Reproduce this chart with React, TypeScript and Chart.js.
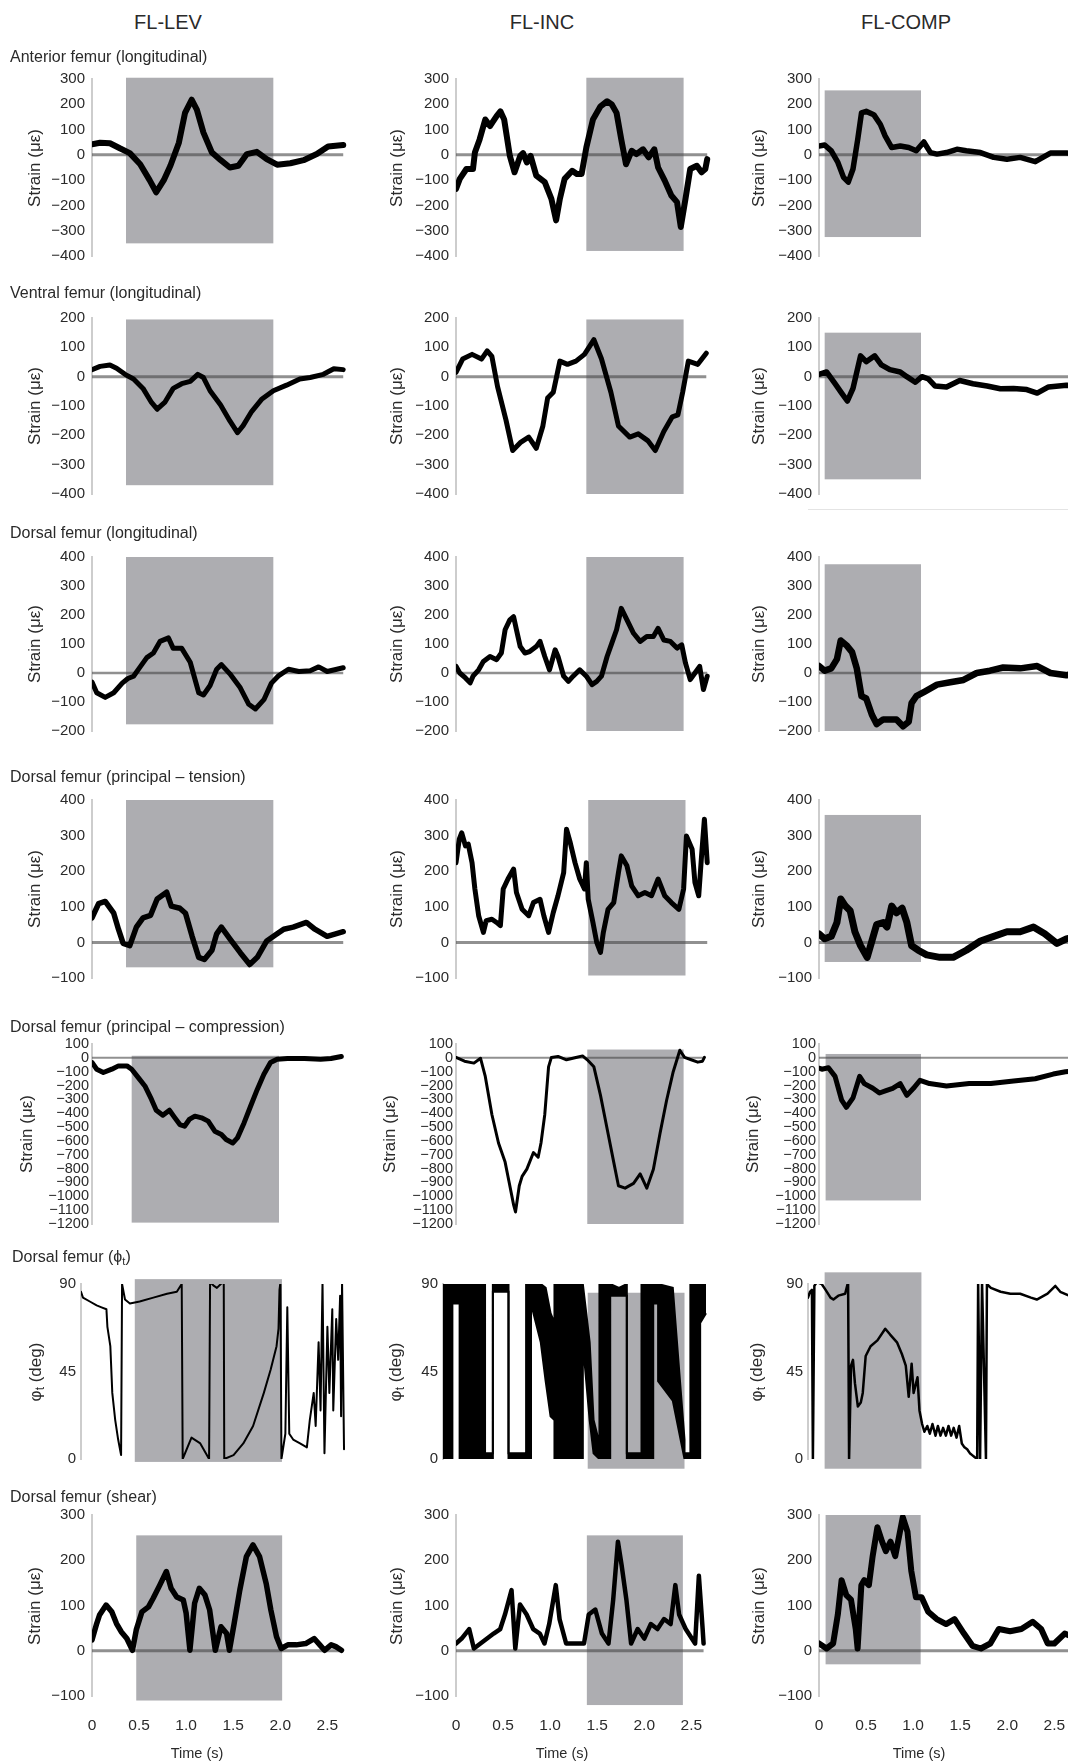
import React, { useEffect, useRef } from 'react';
import { Chart, registerables } from 'chart.js';

Chart.register(...registerables);

const FONT = "'Liberation Sans', Arial, Helvetica, sans-serif";
const TXT = '#2a2a2a';
Chart.defaults.font.family = FONT;

// ---------------- DATA (time in s, strain in microstrain, angle in deg) ----------------
const COLUMN_TITLES = ['FL-LEV', 'FL-INC', 'FL-COMP'];
const X_TICKS_MAX = 2.7;

// Row 1: Anterior femur (longitudinal)
const ANT_LEV_T = [0,0.085,0.19,0.3,0.4,0.51,0.61,0.68,0.76,0.83,0.92,0.985,1.055,1.11,1.18,1.27,1.36,1.46,1.55,1.64,1.745,1.85,1.96,2.1,2.24,2.38,2.5,2.66];
const ANT_LEV_V = [42,48,46,25,7,-37,-100,-148,-100,-43,48,166,218,179,88,9,-20,-50,-43,3,12,-17,-39,-33,-21,3,33,39];
const ANT_INC_T = [0,0.04,0.11,0.18,0.2,0.25,0.31,0.36,0.43,0.47,0.51,0.57,0.62,0.68,0.71,0.75,0.79,0.85,0.94,1.01,1.06,1.1,1.15,1.23,1.28,1.33,1.38,1.45,1.53,1.6,1.65,1.7,1.75,1.8,1.86,1.91,1.98,2.04,2.1,2.14,2.21,2.28,2.34,2.38,2.43,2.48,2.55,2.6,2.64,2.66];
const ANT_INC_V = [-135,-95,-56,-56,9,61,140,114,153,172,140,-4,-69,-4,7,-30,-4,-82,-108,-174,-259,-174,-95,-63,-76,-76,29,140,192,212,199,166,61,-37,16,3,22,-10,22,-50,-102,-161,-187,-285,-174,-56,-43,-69,-56,-17];
const ANT_COMP_T = [0,0.06,0.13,0.2,0.26,0.31,0.36,0.41,0.45,0.5,0.58,0.65,0.7,0.77,0.86,0.95,1.03,1.11,1.18,1.25,1.35,1.46,1.56,1.71,1.85,1.99,2.13,2.29,2.45,2.62,2.7];
const ANT_COMP_V = [35,39,16,-30,-89,-108,-56,61,166,172,159,120,75,29,35,29,16,51,9,3,9,22,16,9,-10,-17,-10,-27,7,7,5];

// Row 2: Ventral femur (longitudinal)
const VEN_LEV_T = [0,0.085,0.19,0.26,0.35,0.44,0.54,0.63,0.69,0.77,0.86,0.95,1.04,1.12,1.18,1.25,1.36,1.46,1.54,1.6,1.69,1.8,1.92,2.06,2.2,2.31,2.45,2.56,2.66];
const VEN_LEV_V = [24,35,40,29,8,-8,-40,-88,-111,-88,-40,-24,-16,8,-3,-48,-96,-151,-191,-167,-119,-76,-48,-29,-8,-3,8,27,24];
const VEN_INC_T = [0,0.07,0.17,0.27,0.33,0.38,0.44,0.53,0.6,0.68,0.77,0.85,0.92,0.97,1.03,1.1,1.18,1.27,1.36,1.46,1.54,1.64,1.72,1.84,1.93,2.03,2.11,2.2,2.29,2.35,2.4,2.46,2.56,2.65];
const VEN_INC_V = [15,60,76,60,88,69,-34,-149,-252,-225,-206,-244,-168,-73,-53,53,42,53,76,126,61,-53,-168,-206,-195,-218,-252,-187,-137,-130,-53,53,42,80];
const VEN_COMP_T = [0,0.08,0.17,0.24,0.3,0.36,0.44,0.5,0.59,0.66,0.75,0.86,0.93,1.02,1.09,1.16,1.23,1.35,1.49,1.63,1.78,1.92,2.06,2.2,2.31,2.43,2.62,2.7];
const VEN_COMP_V = [8,16,-24,-56,-83,-40,71,51,71,40,24,16,0,-19,0,-8,-32,-35,-13,-24,-32,-41,-40,-44,-56,-35,-29,-30];

// Row 3: Dorsal femur (longitudinal)
const DL_LEV_T = [0,0.05,0.14,0.23,0.32,0.38,0.44,0.51,0.58,0.65,0.72,0.81,0.86,0.95,1.04,1.13,1.18,1.25,1.32,1.37,1.46,1.57,1.66,1.73,1.82,1.9,1.97,2.08,2.19,2.31,2.4,2.49,2.66];
const DL_LEV_V = [-31,-68,-84,-68,-35,-19,-11,21,53,69,109,121,85,85,37,-68,-76,-43,13,29,-3,-51,-108,-124,-92,-35,-11,13,5,8,21,5,18];
const DL_INC_T = [0,0.04,0.1,0.15,0.18,0.24,0.29,0.36,0.43,0.48,0.52,0.57,0.61,0.64,0.68,0.73,0.78,0.85,0.89,0.94,0.99,1.05,1.08,1.14,1.19,1.24,1.31,1.38,1.44,1.49,1.54,1.6,1.65,1.7,1.75,1.81,1.88,1.95,2.02,2.09,2.14,2.2,2.27,2.34,2.39,2.43,2.48,2.53,2.58,2.62,2.66];
const DL_INC_V = [23,0,-17,-34,-11,11,40,57,46,69,149,183,194,149,91,69,74,91,109,57,11,80,57,-11,-29,-11,11,-11,-40,-29,-11,57,103,149,223,183,137,109,126,126,154,114,109,86,97,34,-23,0,23,-57,-11];
const DL_COMP_T = [0,0.06,0.13,0.19,0.23,0.29,0.35,0.4,0.45,0.5,0.56,0.61,0.68,0.75,0.82,0.89,0.95,0.98,1.03,1.12,1.25,1.39,1.53,1.67,1.81,1.95,2.13,2.31,2.45,2.62,2.7];
const DL_COMP_V = [24,8,16,48,112,96,72,16,-80,-88,-144,-176,-160,-160,-160,-184,-168,-104,-80,-64,-40,-32,-24,0,8,19,16,24,0,-8,0];

// Row 4: Dorsal femur (principal – tension)
const TEN_LEV_T = [0,0.07,0.14,0.23,0.28,0.33,0.4,0.47,0.54,0.62,0.69,0.79,0.84,0.93,0.99,1.06,1.13,1.19,1.27,1.32,1.37,1.46,1.57,1.67,1.75,1.85,1.96,2.03,2.13,2.27,2.36,2.49,2.66];
const TEN_LEV_V = [69,109,115,82,37,-3,-9,43,69,76,122,141,102,96,82,17,-42,-48,-22,24,43,10,-29,-62,-42,4,24,37,43,56,37,17,30];
const TEN_INC_T = [0,0.035,0.06,0.1,0.13,0.17,0.2,0.24,0.29,0.32,0.38,0.43,0.47,0.5,0.55,0.61,0.64,0.7,0.77,0.82,0.89,0.93,0.98,1.03,1.08,1.14,1.17,1.21,1.26,1.31,1.36,1.38,1.4,1.45,1.49,1.53,1.56,1.61,1.67,1.72,1.75,1.81,1.86,1.93,2.0,2.07,2.14,2.21,2.28,2.36,2.41,2.44,2.5,2.53,2.57,2.6,2.63,2.66];
const TEN_INC_V = [224,290,308,271,276,224,150,75,28,61,65,56,47,150,178,206,140,93,75,112,121,75,28,84,131,196,318,280,224,178,150,224,121,56,0,-28,28,93,112,196,243,215,159,131,140,131,178,131,112,93,150,299,262,168,131,243,346,224];
const TEN_COMP_T = [0,0.06,0.13,0.19,0.23,0.28,0.33,0.38,0.44,0.51,0.56,0.61,0.68,0.72,0.77,0.82,0.88,0.93,0.98,1.05,1.14,1.28,1.42,1.56,1.71,1.85,1.99,2.13,2.27,2.39,2.52,2.62,2.7];
const TEN_COMP_V = [24,10,17,56,122,102,89,30,-9,-42,4,50,56,43,102,83,96,56,-9,-22,-35,-42,-42,-22,4,17,30,30,43,24,-3,10,15];

// Row 5: Dorsal femur (principal – compression)
const CMP_LEV_T = [0,0.05,0.12,0.21,0.28,0.37,0.42,0.49,0.56,0.63,0.68,0.75,0.82,0.87,0.93,0.98,1.03,1.09,1.16,1.23,1.3,1.37,1.42,1.49,1.54,1.61,1.68,1.75,1.82,1.89,1.96,2.07,2.25,2.42,2.53,2.64];
const CMP_LEV_V = [-34,-82,-106,-82,-58,-58,-82,-143,-203,-300,-378,-414,-378,-426,-482,-494,-445,-421,-433,-457,-530,-554,-590,-615,-578,-470,-348,-228,-119,-34,-10,-5,-5,-10,-5,10];
const CMP_INC_T = [0,0.09,0.19,0.26,0.31,0.38,0.45,0.52,0.56,0.61,0.63,0.67,0.7,0.75,0.82,0.87,0.9,0.94,0.98,1.01,1.08,1.17,1.27,1.34,1.39,1.46,1.53,1.6,1.67,1.72,1.79,1.88,1.95,2.02,2.09,2.16,2.23,2.3,2.37,2.42,2.49,2.56,2.61,2.63];
const CMP_INC_V = [3,-24,-38,-3,-134,-409,-615,-753,-890,-1062,-1113,-924,-856,-804,-684,-718,-615,-409,-65,3,10,-14,3,14,-14,-65,-271,-512,-753,-924,-941,-907,-838,-941,-804,-546,-306,-100,55,3,-14,-31,-24,3];
const CMP_COMP_T = [0,0.03,0.1,0.17,0.24,0.29,0.36,0.43,0.48,0.57,0.64,0.71,0.78,0.86,0.93,1.0,1.07,1.17,1.35,1.59,1.82,2.06,2.29,2.48,2.61,2.7];
const CMP_COMP_V = [-75,-82,-72,-134,-306,-357,-289,-134,-186,-220,-254,-237,-220,-186,-271,-220,-162,-186,-203,-186,-186,-168,-151,-117,-100,-95];

// Row 6: Dorsal femur (phi_t), degrees
const PHI_LEV_T = [0,0.02,0.09,0.16,0.21,0.26,0.27,0.3,0.32,0.35,0.38,0.41,0.42,0.45,0.5,0.6,0.74,0.88,0.98,1.03,1.04,1.13,1.22,1.31,1.32,1.36,1.39,1.43,1.46,1.465,1.56,1.66,1.76,1.87,1.94,2.0,2.02,2.03,2.04,2.05,2.09,2.11,2.13,2.17,2.24,2.31,2.34,2.38,2.4,2.43,2.45,2.47,2.49,2.52,2.54,2.57,2.58,2.61,2.63,2.65,2.66,2.67,2.69];
const PHI_LEV_V = [86,83,81,79,78,77,68,58,34,20,10,2,90,82,80,81,83,85,86,90,0,11,8,0,91,89,88,90,91,0,2,8,17,34,46,58,67,87,91,0,13,78,13,10,8,6,20,34,17,60,25,91,3,68,34,77,25,72,51,84,22,91,5];
// FL-INC phi_t oscillates densely between 0 and 90: drawn as a lower/upper envelope
const PHI_INC_T = [0,0.096,0.096,0.17,0.17,0.43,0.43,0.51,0.51,0.67,0.67,0.85,0.85,0.9,0.9,1.0,1.05,1.1,1.14,1.14,1.43,1.43,1.5,1.54,1.6,1.6,1.71,1.71,1.8,1.88,1.88,2.03,2.03,2.15,2.15,2.2,2.2,2.35,2.47,2.47,2.53,2.53,2.63,2.63,2.69];
const PHI_INC_LO = [0,0,80,80,0,0,0,0,86,86,0,0,0,0,80,60,40,22,20,0,0,60,20,3,0,0,0,84,84,84,0,0,0,0,80,80,40,30,0,0,0,0,0,70,75];
const PHI_INC_HI = [90,90,90,90,90,90,3,3,90,90,3,3,90,90,90,90,88,75,70,90,90,90,60,20,8,90,90,90,88,90,3,3,90,90,90,90,90,88,10,3,3,90,90,90,90];
const PHI_COMP_T = [0,0.02,0.04,0.05,0.065,0.09,0.14,0.18,0.23,0.26,0.31,0.38,0.41,0.42,0.44,0.46,0.48,0.51,0.54,0.56,0.59,0.64,0.71,0.79,0.84,0.91,0.96,1.0,1.03,1.06,1.08,1.12,1.14,1.167,1.19,1.22,1.246,1.273,1.304,1.328,1.355,1.382,1.41,1.437,1.464,1.49,1.519,1.546,1.573,1.6,1.628,1.655,1.679,1.703,1.73,1.74,1.76,1.78,1.82,1.83,1.87,1.97,2.07,2.17,2.28,2.34,2.45,2.53,2.58,2.67];
const PHI_COMP_V = [83,86,87,0,89,91,90,87,83,82,84,85,91,0,48,51,39,27,29,34,53,58,61,67,64,60,54,48,32,49,34,42,25,18,14,17,13,18,12,17,12,16,12,17,12,16,11,17,8,6,5,3,2,1,0,91,0,91,0,90,88,86,85,85,83,82,85,89,86,84];

// Row 7: Dorsal femur (shear)
const SHR_LEV_T = [0,0.05,0.08,0.15,0.21,0.26,0.31,0.37,0.43,0.47,0.53,0.6,0.65,0.72,0.79,0.84,0.9,0.97,1.0,1.04,1.09,1.14,1.2,1.25,1.31,1.37,1.43,1.46,1.51,1.57,1.64,1.71,1.78,1.85,1.9,1.96,2.01,2.08,2.17,2.27,2.36,2.42,2.47,2.54,2.59,2.65];
const SHR_LEV_V = [24,60,79,101,86,60,42,27,1,46,86,97,116,145,175,138,119,112,83,1,105,138,123,90,1,53,38,1,60,134,208,234,208,149,90,31,5,13,13,16,27,13,1,13,9,1];
const SHR_INC_T = [0,0.06,0.14,0.19,0.26,0.33,0.4,0.47,0.52,0.59,0.63,0.68,0.75,0.82,0.89,0.94,0.99,1.06,1.1,1.17,1.27,1.36,1.41,1.48,1.55,1.62,1.67,1.72,1.76,1.81,1.86,1.93,2.0,2.07,2.14,2.21,2.28,2.33,2.37,2.44,2.54,2.58,2.62,2.63];
const SHR_INC_V = [16,27,48,5,16,27,38,48,80,134,5,102,80,48,38,16,59,145,70,16,16,16,80,91,38,16,113,241,188,113,16,48,27,59,48,70,59,145,80,48,16,166,48,16];
const SHR_COMP_T = [0,0.08,0.15,0.2,0.24,0.29,0.34,0.39,0.41,0.45,0.48,0.53,0.57,0.62,0.67,0.71,0.76,0.81,0.86,0.89,0.94,0.98,1.03,1.09,1.16,1.25,1.35,1.44,1.54,1.63,1.72,1.82,1.91,2.03,2.15,2.27,2.36,2.43,2.5,2.61,2.7];
const SHR_COMP_V = [16,5,16,80,156,123,113,48,5,145,156,145,209,273,241,220,241,209,263,295,263,177,118,118,86,70,59,70,38,11,5,16,48,43,48,64,48,16,16,38,30];

// Grey stance-phase boxes: [t start, t end, value top, value bottom] per column
const BOX_ANT = [[0.36, 1.92, 305, -350], [1.38, 2.41, 305, -380], [0.06, 1.08, 255, -325]];
const BOX_VEN = [[0.36, 1.92, 195, -370], [1.38, 2.41, 195, -400], [0.06, 1.08, 150, -350]];
const BOX_DLONG = [[0.36, 1.92, 400, -177], [1.38, 2.41, 400, -200], [0.06, 1.08, 375, -200]];
const BOX_TEN = [[0.36, 1.92, 400, -70], [1.4, 2.43, 400, -93], [0.06, 1.08, 358, -55]];
const BOX_CMP = [[0.42, 1.98, 15, -1190], [1.39, 2.41, 60, -1200], [0.07, 1.08, 28, -1030]];
const BOX_PHI = [[0.55, 2.055, 92.5, -1.5], [1.48, 2.47, 85.5, -5], [0.17, 1.16, 96, -5]];
const BOX_SHR = [[0.47, 2.02, 255, -110], [1.39, 2.41, 255, -120], [0.07, 1.08, 300, -30]];

// Y axis ranges per row
const Y_MIN = [-400, -400, -200, -100, -1200, 0, -100];
const Y_MAX = [300, 200, 400, 400, 100, 90, 300];
const Y_STEP = [100, 100, 100, 100, 100, 45, 100];
const X_STEP = 0.5;

const SERIES: any[][] = [
  [[ANT_LEV_T, ANT_LEV_V], [ANT_INC_T, ANT_INC_V], [ANT_COMP_T, ANT_COMP_V]],
  [[VEN_LEV_T, VEN_LEV_V], [VEN_INC_T, VEN_INC_V], [VEN_COMP_T, VEN_COMP_V]],
  [[DL_LEV_T, DL_LEV_V], [DL_INC_T, DL_INC_V], [DL_COMP_T, DL_COMP_V]],
  [[TEN_LEV_T, TEN_LEV_V], [TEN_INC_T, TEN_INC_V], [TEN_COMP_T, TEN_COMP_V]],
  [[CMP_LEV_T, CMP_LEV_V], [CMP_INC_T, CMP_INC_V], [CMP_COMP_T, CMP_COMP_V]],
  [[PHI_LEV_T, PHI_LEV_V], null, [PHI_COMP_T, PHI_COMP_V]],
  [[SHR_LEV_T, SHR_LEV_V], [SHR_INC_T, SHR_INC_V], [SHR_COMP_T, SHR_COMP_V]],
];
const BOXES = [BOX_ANT, BOX_VEN, BOX_DLONG, BOX_TEN, BOX_CMP, BOX_PHI, BOX_SHR];

// ---------------- LAYOUT / STYLE ----------------
const ROW_TOP = [79, 318, 557, 800, 1044, 1284, 1515];
const ROW_BOT = [256, 494, 731, 978, 1224, 1459, 1696];
const ROW_TITLE_Y = [57, 293, 533, 777, 1027, 1258, 1497];
const COL_X = [92, 456, 819];
const PHI_COL_X = [81, 443, 808];
const PX_PER_S = 94.4;
const PHI_PX_PER_S = 97.8;
const ZERO_W = [3, 3, 2.5, 3, 2, 0, 3];
const TICK_FS = [15, 15, 15, 15, 14.5, 15, 15];
const TICK_PAD = [7, 7, 7, 7, 3, 5, 7];
const LINE_W = [[6, 6, 5.5], [5, 5, 5.5], [5, 5, 6.5], [5.5, 5, 7], [5, 3, 5], [2, 2, 2.5], [5.5, 4.5, 6]];
const YLAB_X = [[34, 396, 758], [34, 396, 758], [34, 396, 758], [34, 396, 758], [26, 389, 752], [37, 397, 758], [34, 396, 758]];

const AXIS_W = 70, PAD_T = 20, PAD_B = 20, XAX_H = 50, PAD_R = 12;
const BOX_COLOR = '#adadb1';
const ZERO_COLOR = 'rgba(70,70,70,0.6)';
const AXIS_COLOR = '#cdcdcd';

const minus = (v: number) => (v < 0 ? '\u2212' + Math.abs(v) : String(v));
const pts = (t: number[], v: number[]) => t.map((x, i) => ({ x, y: v[i] }));

function Panel({ r, c }: { r: number; c: number }) {
  const ref = useRef<HTMLCanvasElement>(null);
  const isPhi = r === 5;
  const showX = r === 6;
  const x0 = isPhi ? PHI_COL_X[c] : COL_X[c];
  const pxs = isPhi ? PHI_PX_PER_S : PX_PER_S;
  const top = ROW_TOP[r], bot = ROW_BOT[r];
  const w = Math.round(AXIS_W + X_TICKS_MAX * pxs + PAD_R);
  const h = PAD_T + (bot - top) + (showX ? XAX_H : PAD_B);

  useEffect(() => {
    const datasets: any[] = [];
    let zeroEnd = 2.66;
    const s = SERIES[r][c];
    if (s) {
      datasets.push({
        data: pts(s[0], s[1]),
        borderColor: '#000',
        borderWidth: LINE_W[r][c],
        pointRadius: 0,
        tension: 0,
        fill: false,
        borderJoinStyle: 'round',
        borderCapStyle: 'round',
      });
      zeroEnd = s[0][s[0].length - 1];
    } else {
      datasets.push({
        data: pts(PHI_INC_T, PHI_INC_LO),
        borderColor: '#000', borderWidth: LINE_W[r][c], pointRadius: 0, tension: 0, fill: false,
      });
      datasets.push({
        data: pts(PHI_INC_T, PHI_INC_HI),
        borderColor: '#000', borderWidth: LINE_W[r][c], pointRadius: 0, tension: 0,
        fill: '-1', backgroundColor: '#000',
      });
    }
    const box = BOXES[r][c];
    const zw = ZERO_W[r];
    const decor = {
      id: 'decor',
      beforeDatasetsDraw(chart: any) {
        const { ctx } = chart;
        const xs = chart.scales.x, ys = chart.scales.y;
        ctx.save();
        const bx0 = xs.getPixelForValue(box[0]);
        const bx1 = xs.getPixelForValue(box[1]);
        const by0 = ys.getPixelForValue(box[2]);
        const by1 = ys.getPixelForValue(box[3]);
        ctx.fillStyle = BOX_COLOR;
        ctx.fillRect(bx0, by0, bx1 - bx0, by1 - by0);
        if (zw > 0) {
          const yz = ys.getPixelForValue(0);
          ctx.strokeStyle = ZERO_COLOR;
          ctx.lineWidth = zw;
          ctx.beginPath();
          ctx.moveTo(xs.getPixelForValue(0), yz);
          ctx.lineTo(xs.getPixelForValue(zeroEnd), yz);
          ctx.stroke();
        }
        ctx.restore();
      },
    };
    const xScale: any = {
      type: 'linear',
      min: 0,
      max: X_TICKS_MAX,
      display: showX,
      grid: { display: false, drawTicks: false },
      border: { display: false },
      ticks: {
        stepSize: X_STEP,
        includeBounds: false,
        padding: 20,
        color: TXT,
        font: { size: 15.5, family: FONT },
        callback: (v: any) => (Number(v) === 0 ? '0' : Number(v).toFixed(1)),
      },
    };
    if (showX) xScale.afterFit = (sc: any) => { sc.height = XAX_H; };
    const chart = new Chart(ref.current as HTMLCanvasElement, {
      type: 'line',
      data: { datasets },
      options: {
        animation: false,
        responsive: false,
        maintainAspectRatio: false,
        events: [],
        layout: { padding: { top: PAD_T, bottom: showX ? 0 : PAD_B, left: 0, right: PAD_R } },
        plugins: { legend: { display: false }, tooltip: { enabled: false }, title: { display: false } },
        scales: {
          x: xScale,
          y: {
            type: 'linear',
            min: Y_MIN[r],
            max: Y_MAX[r],
            grid: { display: false, drawTicks: false },
            border: { display: true, color: AXIS_COLOR, width: 2 },
            ticks: {
              stepSize: Y_STEP[r],
              autoSkip: false,
              includeBounds: false,
              padding: TICK_PAD[r],
              color: TXT,
              font: { size: TICK_FS[r], family: FONT },
              callback: (v: any) => minus(Number(v)),
            },
            afterFit: (sc: any) => { sc.width = AXIS_W; },
          },
        },
      } as any,
      plugins: [decor],
    });
    return () => chart.destroy();
  }, []);

  return (
    <canvas
      ref={ref}
      width={w}
      height={h}
      style={{ position: 'absolute', left: x0 - AXIS_W, top: top - PAD_T, width: w, height: h }}
    />
  );
}

const textStyle = (x: number, y: number, size: number, center: boolean): React.CSSProperties => ({
  position: 'absolute',
  left: x,
  top: y,
  transform: center ? 'translate(-50%, -50%)' : 'translateY(-50%)',
  fontFamily: FONT,
  fontSize: size,
  lineHeight: 1,
  color: TXT,
  whiteSpace: 'nowrap',
});

const subStyle: React.CSSProperties = { fontSize: '0.7em', verticalAlign: '-0.25em' };

const PHI_STRAIGHT = '\u03d5';
const PHI_CURLY = '\u03c6';
const MU_EPS = '\u03bc\u03b5';

const ROW_TITLES: React.ReactNode[] = [
  'Anterior femur (longitudinal)',
  'Ventral femur (longitudinal)',
  'Dorsal femur (longitudinal)',
  'Dorsal femur (principal \u2013 tension)',
  'Dorsal femur (principal \u2013 compression)',
  <span>{'Dorsal femur (' + PHI_STRAIGHT}<span style={subStyle}>t</span>{')'}</span>,
  'Dorsal femur (shear)',
];

const HEADER_X = [168, 542, 906];
const TIME_X = [197, 562, 919];

export default function App() {
  const panels: React.ReactNode[] = [];
  const labels: React.ReactNode[] = [];
  for (let r = 0; r < 7; r++) {
    for (let c = 0; c < 3; c++) {
      panels.push(<Panel key={`p${r}${c}`} r={r} c={c} />);
      const cy = (ROW_TOP[r] + ROW_BOT[r]) / 2;
      labels.push(
        <div
          key={`y${r}${c}`}
          style={{ ...textStyle(YLAB_X[r][c], cy, 17, false), transform: 'translate(-50%, -50%) rotate(-90deg)' }}
        >
          {r === 5 ? (
            <span>{PHI_CURLY}<span style={subStyle}>t</span>{' (deg)'}</span>
          ) : (
            'Strain (' + MU_EPS + ')'
          )}
        </div>
      );
    }
    labels.push(
      <div key={`rt${r}`} style={textStyle(r === 5 ? 12 : 10, ROW_TITLE_Y[r], 16, false)}>
        {ROW_TITLES[r]}
      </div>
    );
  }
  return (
    <div
      style={{
        position: 'absolute',
        left: 0,
        top: 0,
        width: 1068,
        height: 1762,
        overflow: 'hidden',
        background: '#fff',
      }}
    >
      {COLUMN_TITLES.map((t, i) => (
        <div key={`h${i}`} style={textStyle(HEADER_X[i], 22, 20, true)}>{t}</div>
      ))}
      {panels}
      {labels}
      {TIME_X.map((x, i) => (
        <div key={`t${i}`} style={textStyle(x, 1753, 14.5, true)}>Time (s)</div>
      ))}
      <div style={{ position: 'absolute', left: 808, top: 509, width: 260, height: 1, background: '#e4e4e4' }} />
    </div>
  );
}
